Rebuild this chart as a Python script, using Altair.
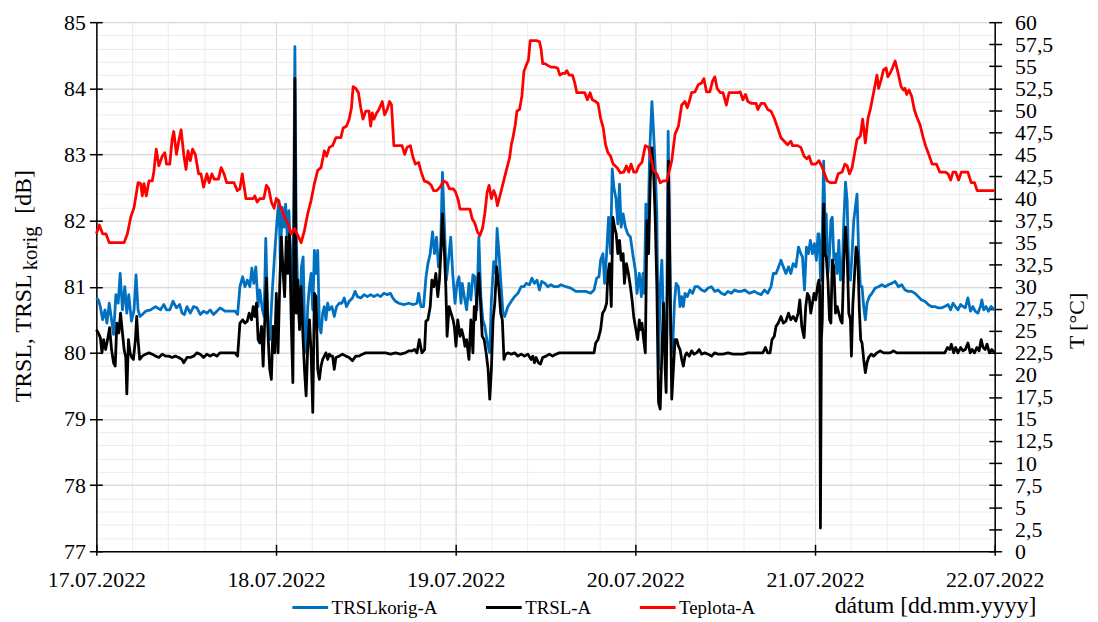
import altair as alt
import pandas as pd

# ---------------- data (hours since 17.07.2022 00:00, value) ----------------
date_labels = ["17.07.2022", "18.07.2022", "19.07.2022", "20.07.2022", "21.07.2022", "22.07.2022"]
series_names = ["TRSLkorig-A", "TRSL-A", "Teplota-A"]
series_colors = ["#0070C0", "#000000", "#FF0000"]

trslkorig = [
    (0, 80.83), (0.27, 80.8), (0.53, 80.7), (0.84, 80.5), (1.15, 80.65), (1.41, 80.45), (1.72, 80.75), (2.03, 80.5),
    (2.3, 80.28), (2.61, 80.88), (2.92, 80.75), (3.18, 81.2), (3.49, 80.65), (3.8, 81.0), (4.07, 80.6), (4.33, 80.88),
    (4.69, 80.48), (5.04, 80.65), (5.3, 81.18), (5.57, 80.65), (5.83, 80.55), (6.14, 80.58), (6.59, 80.63), (7.25, 80.65),
    (7.91, 80.7), (8.57, 80.65), (9.02, 80.73), (9.37, 80.65), (9.81, 80.65), (10.25, 80.78), (10.7, 80.68), (11.14, 80.73),
    (11.45, 80.6), (11.76, 80.58), (12.11, 80.7), (12.55, 80.6), (12.99, 80.7), (13.44, 80.68), (13.88, 80.58), (14.32, 80.63),
    (14.76, 80.6), (15.2, 80.65), (15.65, 80.58), (16.09, 80.63), (16.53, 80.68), (17.19, 80.63), (17.86, 80.63), (18.52, 80.63),
    (18.87, 80.58), (19.18, 81.0), (19.54, 81.15), (19.85, 81.0), (20.16, 81.1), (20.51, 81.0), (20.77, 81.28), (21.04, 81.05),
    (21.3, 81.3), (21.61, 80.7), (21.83, 80.95), (22.19, 80.65), (22.41, 80.55), (22.63, 81.73), (22.9, 80.5), (23.16, 80.2),
    (23.51, 80.95), (23.82, 81.5),
    (24.13, 82.0), (24.4, 82.3), (24.57, 81.4), (24.84, 82.2), (25.06, 81.9), (25.28, 82.25), (25.5, 81.75), (25.72, 82.15),
    (25.94, 81.5), (26.17, 80.6), (26.34, 81.8), (26.52, 84.63), (26.7, 81.8), (26.92, 80.85), (27.14, 80.4), (27.4, 81.3),
    (27.62, 81.45), (27.8, 80.5), (28.02, 80.0), (28.24, 80.7), (28.46, 81.0), (28.69, 81.2), (28.91, 80.65), (29.13, 81.55),
    (29.35, 81.2), (29.57, 81.55), (29.79, 80.4), (30.01, 80.3), (30.23, 80.6), (30.45, 80.7), (30.67, 80.5), (30.9, 80.75),
    (31.12, 80.65), (31.47, 80.7), (31.78, 80.55), (32.09, 80.7), (32.44, 80.75), (32.8, 80.75), (33.11, 80.83), (33.41, 80.7),
    (33.77, 80.78), (34.21, 80.83), (34.56, 80.93), (34.87, 80.85), (35.32, 80.83), (35.76, 80.88), (36.2, 80.85), (36.64, 80.88),
    (37.08, 80.85), (37.53, 80.88), (37.97, 80.85), (38.41, 80.9), (38.85, 80.88), (39.29, 80.9), (39.6, 80.83), (39.96, 80.78),
    (40.4, 80.75), (41.06, 80.73), (41.72, 80.75), (42.39, 80.73), (42.83, 80.75), (43.05, 80.9), (43.36, 80.7), (43.71, 80.7),
    (44.02, 81.13), (44.29, 81.35), (44.6, 81.5), (44.91, 81.83), (45.17, 81.5), (45.44, 81.75), (45.7, 81.3), (45.97, 81.5),
    (46.23, 82.73), (46.5, 81.9), (46.76, 81.1), (47.03, 81.4), (47.34, 81.75), (47.6, 81.2), (47.91, 80.75), (48.18, 81.05),
    (48.44, 81.15), (48.71, 80.75),
    (48.88, 81.05), (49.15, 80.85), (49.46, 80.65), (49.77, 81.05), (50.03, 80.8), (50.3, 81.18), (50.56, 81.15), (50.83, 80.65),
    (51.09, 81.75), (51.36, 80.85), (51.62, 80.5), (51.89, 80.4), (52.24, 80.15), (52.55, 80.0), (52.77, 80.8), (53.08, 81.38),
    (53.35, 81.2), (53.53, 81.88), (53.79, 81.5), (54.01, 81.1), (54.32, 80.6), (54.54, 80.55), (54.98, 80.7), (55.43, 80.78),
    (55.87, 80.85), (56.31, 80.9), (56.75, 81.0), (57.11, 81.0), (57.41, 81.05), (57.86, 81.03), (58.17, 81.13), (58.52, 81.05),
    (58.87, 81.1), (59.18, 80.95), (59.49, 81.08), (59.93, 81.05), (60.29, 81.0), (60.73, 81.03), (61.17, 81.0), (61.61, 81.0),
    (62.06, 81.03), (62.72, 81.0), (63.38, 80.98), (64.04, 80.93), (64.71, 80.93), (65.37, 80.93), (66.03, 80.9), (66.48, 80.95),
    (66.83, 81.13), (67.14, 81.15), (67.36, 81.4), (67.67, 81.5), (67.89, 81.05), (68.16, 81.5), (68.42, 82.05), (68.69, 81.5),
    (68.91, 82.78), (69.13, 82.5), (69.39, 82.35), (69.66, 81.95), (69.88, 82.55), (70.1, 81.9), (70.37, 82.1), (70.67, 81.9),
    (70.98, 81.8), (71.34, 81.75), (71.65, 81.5), (72.0, 81.25), (72.22, 80.9), (72.53, 81.2),
    (72.8, 80.85), (73.02, 81.2), (73.19, 80.9), (73.41, 82.25), (73.64, 81.5), (73.9, 83.0), (74.21, 83.8), (74.43, 83.35),
    (74.65, 82.8), (74.87, 82.1), (75.09, 79.75), (75.32, 81.0), (75.54, 81.4), (75.76, 80.5), (75.98, 80.0), (76.2, 80.75),
    (76.38, 83.35), (76.55, 82.0), (76.73, 80.3), (76.95, 80.0), (77.22, 80.75), (77.44, 81.05), (77.75, 81.0), (77.97, 80.7),
    (78.19, 80.85), (78.41, 80.7), (78.63, 80.9), (78.94, 80.85), (79.29, 80.95), (79.65, 80.9), (79.96, 81.0), (80.4, 81.0),
    (80.84, 80.95), (81.28, 80.93), (81.72, 80.98), (82.17, 81.0), (82.61, 80.93), (83.05, 80.95), (83.49, 80.9), (83.93, 80.88),
    (84.38, 80.93), (84.82, 80.9), (85.26, 80.95), (85.7, 80.93), (86.14, 80.93), (86.59, 80.95), (87.25, 80.9), (87.91, 80.93),
    (88.35, 80.9), (88.8, 80.88), (89.24, 80.95), (89.68, 80.9), (90.12, 81.0), (90.43, 81.2), (90.79, 81.2), (91.14, 81.3),
    (91.45, 81.4), (91.76, 81.3), (92.11, 81.2), (92.46, 81.3), (92.77, 81.2), (93.08, 81.35), (93.44, 81.3), (93.79, 81.6),
    (94.1, 81.5), (94.32, 81.45), (94.59, 80.95), (94.85, 81.6), (95.12, 81.5), (95.38, 81.7), (95.65, 81.5), (95.91, 81.65),
    (96.18, 81.4), (96.4, 81.8),
    (96.53, 81.8), (96.75, 81.1), (96.97, 81.8), (97.15, 82.9), (97.33, 82.0), (97.5, 82.1), (97.72, 81.2), (97.94, 81.5),
    (98.12, 82.0), (98.3, 82.05), (98.52, 81.4), (98.74, 81.5), (98.96, 81.2), (99.18, 81.7), (99.4, 81.1), (99.62, 81.2),
    (99.85, 82.0), (100.07, 82.58), (100.29, 82.3), (100.51, 81.2), (100.73, 81.1), (100.95, 81.5), (101.17, 82.0), (101.39, 82.2),
    (101.61, 82.4), (101.83, 81.5), (102.06, 81.0), (102.28, 81.0), (102.5, 80.7), (102.72, 80.5), (102.94, 80.75), (103.25, 80.85),
    (103.6, 80.9), (104.04, 80.98), (104.49, 81.0), (104.93, 81.03), (105.37, 81.0), (105.81, 81.03), (106.25, 81.05), (106.7, 81.08),
    (107.14, 81.0), (107.58, 81.03), (108.02, 80.95), (108.46, 80.93), (108.91, 80.93), (109.35, 80.9), (109.79, 80.85), (110.23, 80.8),
    (110.67, 80.78), (111.12, 80.73), (111.56, 80.7), (112.0, 80.7), (112.44, 80.68), (112.88, 80.68), (113.33, 80.7), (113.77, 80.73),
    (114.12, 80.65), (114.43, 80.75), (114.74, 80.7), (115.09, 80.65), (115.45, 80.73), (115.76, 80.7), (116.07, 80.68), (116.42, 80.83),
    (116.77, 80.63), (117.08, 80.7), (117.39, 80.63), (117.75, 80.6), (118.1, 80.7), (118.28, 80.8), (118.54, 80.65), (118.85, 80.7),
    (119.16, 80.63), (119.51, 80.7), (120.0, 80.65),
]

trsl = [
    (0, 80.35), (0.27, 80.3), (0.53, 80.23), (0.75, 80.0), (0.97, 80.2), (1.24, 80.05), (1.5, 80.2), (1.77, 80.38),
    (2.03, 80.05), (2.3, 79.85), (2.52, 79.8), (2.74, 80.45), (3.01, 80.3), (3.23, 80.6), (3.49, 80.3), (3.71, 80.05),
    (3.93, 79.93), (4.07, 79.38), (4.29, 80.2), (4.51, 80.0), (4.73, 79.93), (4.95, 79.9), (5.22, 80.2), (5.39, 80.55),
    (5.57, 80.2), (5.79, 79.9), (6.14, 79.95), (6.59, 79.98), (7.03, 80.0), (7.47, 79.98), (7.91, 79.95), (8.35, 79.93),
    (8.8, 79.98), (9.24, 79.95), (9.68, 79.95), (10.12, 79.93), (10.56, 79.95), (11.01, 79.93), (11.45, 79.9), (11.67, 79.85),
    (12.11, 79.93), (12.55, 79.93), (12.99, 79.95), (13.44, 80.0), (13.88, 79.98), (14.32, 79.93), (14.76, 79.98), (15.2, 79.95),
    (15.65, 79.98), (16.09, 79.95), (16.53, 80.0), (17.19, 80.0), (17.86, 80.0), (18.52, 80.0), (18.87, 79.95), (19.18, 80.45),
    (19.54, 80.5), (19.85, 80.45), (20.16, 80.48), (20.42, 80.6), (20.73, 80.5), (20.95, 80.7), (21.17, 80.55), (21.39, 80.75),
    (21.61, 80.2), (21.83, 80.15), (22.06, 80.4), (22.28, 79.8), (22.5, 80.5), (22.72, 81.13), (22.94, 80.25), (23.16, 79.75),
    (23.38, 79.6), (23.6, 80.4), (23.82, 80.0),
    (24.04, 80.9), (24.27, 80.0), (24.49, 81.0), (24.71, 81.75), (24.93, 81.25), (25.15, 80.85), (25.37, 81.75), (25.59, 81.2),
    (25.81, 81.8), (26.03, 80.5), (26.25, 79.55), (26.39, 81.5), (26.52, 84.15), (26.7, 80.6), (26.92, 81.1), (27.14, 80.35),
    (27.36, 81.0), (27.58, 80.3), (27.8, 79.75), (28.02, 79.35), (28.24, 80.1), (28.46, 80.5), (28.69, 80.0), (28.91, 79.1),
    (29.13, 80.9), (29.35, 80.85), (29.57, 79.75), (29.79, 79.6), (30.01, 79.8), (30.23, 79.9), (30.45, 79.95), (30.67, 80.0),
    (30.9, 79.9), (31.12, 79.98), (31.34, 79.95), (31.56, 79.95), (31.78, 79.75), (32.0, 79.93), (32.44, 79.95), (32.88, 79.98),
    (33.33, 79.95), (33.77, 79.93), (34.21, 79.88), (34.65, 79.95), (35.09, 79.95), (35.54, 79.98), (35.98, 80.0), (36.64, 80.0),
    (37.3, 80.0), (37.97, 80.0), (38.63, 80.0), (39.29, 79.98), (39.96, 80.0), (40.62, 79.98), (41.28, 80.0), (41.72, 80.03),
    (42.17, 80.03), (42.52, 80.05), (42.83, 80.0), (43.14, 80.2), (43.49, 80.0), (43.85, 80.05), (44.02, 80.48), (44.29, 80.5),
    (44.6, 80.7), (44.82, 81.1), (45.08, 81.0), (45.35, 81.2), (45.61, 80.85), (45.83, 81.1), (46.06, 81.6), (46.23, 82.1),
    (46.5, 81.5), (46.68, 81.0), (46.85, 80.25), (47.12, 80.7), (47.38, 80.6), (47.65, 80.5), (47.82, 80.4), (48.04, 80.1),
    (48.27, 80.5), (48.58, 80.25),
    (48.8, 80.35), (49.02, 80.25), (49.24, 80.1), (49.46, 80.2), (49.77, 79.9), (50.03, 80.5), (50.3, 80.0), (50.48, 80.7),
    (50.65, 80.5), (50.83, 80.85), (51.09, 81.2), (51.32, 80.75), (51.54, 80.25), (51.8, 80.2), (52.07, 80.0), (52.33, 79.75),
    (52.55, 79.3), (52.77, 79.75), (52.99, 80.5), (53.22, 80.75), (53.48, 81.3), (53.75, 81.0), (54.01, 80.6), (54.23, 80.5),
    (54.45, 79.9), (54.67, 79.98), (54.98, 80.0), (55.43, 79.98), (55.87, 80.0), (56.31, 79.95), (56.75, 79.98), (57.19, 79.95),
    (57.64, 79.98), (58.08, 79.9), (58.3, 79.95), (58.52, 79.85), (58.74, 79.93), (59.05, 79.85), (59.32, 79.83), (59.62, 79.93),
    (60.07, 79.95), (60.51, 79.98), (60.95, 79.95), (61.39, 79.98), (61.83, 80.0), (62.5, 80.0), (63.38, 80.0), (64.27, 80.0),
    (65.15, 80.0), (66.03, 80.0), (66.48, 80.0), (66.7, 80.15), (67.01, 80.2), (67.36, 80.35), (67.62, 80.6), (67.89, 80.65),
    (68.16, 80.75), (68.33, 81.2), (68.55, 81.35), (68.78, 80.7), (69.0, 82.05), (69.22, 81.9), (69.44, 81.8), (69.66, 81.5),
    (69.88, 81.7), (70.1, 81.4), (70.37, 81.5), (70.54, 81.05), (70.81, 81.35), (71.07, 81.2), (71.34, 81.0), (71.56, 80.8),
    (71.78, 80.55), (72.0, 80.4), (72.31, 80.2), (72.53, 80.5),
    (72.66, 80.35), (72.88, 80.45), (73.11, 80.2), (73.33, 80.0), (73.55, 82.0), (73.77, 81.5), (73.99, 82.6), (74.21, 83.1),
    (74.43, 82.75), (74.65, 82.05), (74.87, 81.0), (75.09, 79.25), (75.32, 79.15), (75.54, 80.0), (75.76, 80.75), (75.98, 79.75),
    (76.11, 79.4), (76.29, 81.0), (76.42, 82.9), (76.64, 81.0), (76.86, 79.3), (77.08, 79.75), (77.3, 80.2), (77.53, 80.2),
    (77.75, 80.1), (77.97, 80.05), (78.19, 79.9), (78.41, 79.8), (78.63, 79.95), (78.85, 80.0), (79.2, 79.95), (79.51, 80.03),
    (79.82, 79.98), (80.18, 80.0), (80.53, 80.05), (80.84, 79.98), (81.28, 80.0), (81.72, 79.98), (82.17, 79.95), (82.61, 80.0),
    (83.05, 79.98), (83.71, 79.98), (84.38, 80.0), (85.04, 79.98), (85.7, 79.98), (86.37, 79.98), (87.03, 80.0), (87.69, 80.0),
    (88.35, 80.0), (89.02, 80.0), (89.37, 80.08), (89.68, 80.0), (89.99, 80.0), (90.25, 80.2), (90.56, 80.25), (90.79, 80.4),
    (91.09, 80.45), (91.45, 80.55), (91.76, 80.45), (92.11, 80.48), (92.46, 80.6), (92.77, 80.5), (93.08, 80.55), (93.44, 80.48),
    (93.75, 80.6), (93.97, 80.8), (94.23, 80.4), (94.54, 80.23), (94.76, 80.7), (94.98, 80.9), (95.21, 80.85), (95.43, 80.6),
    (95.65, 80.75), (95.87, 80.9), (96.09, 80.8), (96.4, 81.05),
    (96.53, 81.1), (96.62, 81.0), (96.72, 77.35), (96.85, 80.2), (96.97, 80.5), (97.15, 82.25), (97.33, 81.5), (97.5, 81.45),
    (97.72, 81.1), (97.94, 80.5), (98.12, 80.45), (98.3, 81.4), (98.52, 81.3), (98.74, 80.6), (98.96, 80.7), (99.18, 80.6),
    (99.4, 80.5), (99.62, 80.45), (99.85, 81.4), (100.07, 81.9), (100.29, 81.5), (100.51, 80.6), (100.73, 80.5), (100.86, 79.95),
    (101.04, 80.7), (101.26, 81.15), (101.48, 81.6), (101.7, 81.5), (101.92, 80.65), (102.1, 80.2), (102.28, 80.15), (102.5, 79.9),
    (102.72, 79.7), (102.94, 79.85), (103.16, 79.93), (103.51, 79.98), (103.82, 79.95), (104.27, 80.0), (104.71, 80.03), (105.15, 80.0),
    (105.59, 80.0), (106.03, 80.0), (106.48, 80.03), (106.92, 80.0), (107.58, 80.0), (108.46, 80.0), (109.35, 80.0), (110.23, 80.0),
    (111.12, 80.0), (112.0, 80.0), (112.88, 80.0), (113.33, 80.0), (113.68, 80.08), (113.99, 80.05), (114.21, 80.13), (114.52, 80.0),
    (114.79, 80.08), (115.09, 80.0), (115.45, 80.08), (115.76, 80.03), (116.07, 80.05), (116.42, 80.15), (116.73, 80.0), (116.99, 80.05),
    (117.3, 80.0), (117.61, 80.08), (117.92, 80.03), (118.19, 80.2), (118.45, 80.08), (118.72, 80.05), (118.98, 80.13), (119.29, 80.0),
    (119.6, 80.05), (120.0, 80.0),
]

teplota = [
    (0.0, 36.0), (0.4, 37.0), (0.84, 36.0), (1.28, 36.0), (1.72, 35.0), (3.71, 35.0), (4.15, 36.0), (4.6, 37.9),
    (5.04, 39.0), (5.57, 41.8), (5.92, 41.7), (6.14, 40.3), (6.36, 41.7), (6.67, 40.3), (7.03, 42.0), (7.47, 42.0),
    (7.69, 43.1), (8.0, 45.6), (8.35, 43.7), (8.8, 44.8), (9.15, 45.2), (9.37, 43.9), (9.81, 43.9), (10.12, 46.7),
    (10.34, 47.6), (10.7, 45.0), (11.0, 46.5), (11.32, 47.8), (11.67, 45.0), (11.98, 43.3), (12.24, 45.4), (12.55, 44.3),
    (12.86, 45.6), (13.22, 45.0), (13.66, 42.8), (13.97, 42.8), (14.32, 41.3), (14.76, 42.8), (15.07, 41.8), (15.43, 42.8),
    (15.74, 42.2), (16.31, 42.2), (16.67, 43.5), (17.06, 42.8), (17.41, 41.8), (18.39, 41.8), (18.83, 40.9), (19.18, 41.1),
    (19.49, 42.8), (19.98, 40.0), (20.95, 40.0), (21.17, 40.3), (21.48, 39.6), (21.83, 40.0), (22.37, 40.0), (22.72, 41.5),
    (23.03, 41.1), (23.38, 39.6), (23.74, 38.9),
    (24.04, 40.0), (24.27, 39.8), (24.71, 38.8), (25.15, 37.9), (25.59, 37.2), (26.03, 36.0), (26.48, 36.6), (26.92, 35.8),
    (27.36, 35.0), (27.8, 36.4), (28.24, 38.3), (28.69, 39.8), (29.13, 41.7), (29.57, 43.2), (30.01, 43.5), (30.45, 45.4),
    (30.76, 44.8), (31.12, 45.8), (31.56, 46.0), (32.0, 46.9), (32.66, 46.9), (32.97, 48.0), (33.41, 48.2), (33.77, 49.0),
    (34.08, 50.3), (34.3, 52.7), (34.65, 52.5), (35.01, 52.0), (35.32, 50.3), (35.62, 49.0), (35.98, 49.9), (36.42, 49.9),
    (36.64, 48.2), (36.86, 49.7), (37.08, 49.0), (37.44, 49.7), (37.75, 50.1), (38.19, 51.0), (38.5, 49.5), (38.85, 50.1),
    (39.16, 51.0), (39.43, 50.6), (39.74, 46.0), (40.84, 46.0), (41.19, 45.0), (41.5, 45.8), (41.95, 46.0), (42.26, 44.8),
    (42.61, 43.9), (43.05, 44.1), (43.4, 43.0), (43.8, 42.0), (44.38, 41.8), (44.73, 41.5), (45.04, 40.9), (45.48, 40.9),
    (45.92, 41.3), (46.37, 42.0), (46.81, 41.8), (47.16, 41.1), (47.69, 41.1),
    (48.0, 40.7), (48.35, 39.8), (48.57, 38.8), (49.46, 38.8), (49.9, 38.8), (50.21, 37.7), (50.56, 37.2), (50.92, 36.2),
    (51.23, 35.8), (51.58, 36.6), (51.89, 38.3), (52.2, 40.7), (52.46, 41.5), (52.77, 40.0), (53.08, 40.9), (53.35, 40.3),
    (53.57, 39.2), (53.88, 40.2), (54.32, 41.7), (54.76, 43.2), (55.2, 44.6), (55.43, 46.1), (55.65, 46.9), (55.96, 48.4),
    (56.18, 49.9), (56.53, 50.1), (56.84, 51.6), (57.11, 54.4), (57.41, 55.1), (57.72, 55.7), (57.95, 57.9), (58.74, 57.9),
    (59.18, 57.8), (59.4, 57.0), (59.62, 55.3), (59.93, 55.3), (60.29, 55.1), (60.73, 54.9), (61.17, 54.9), (61.61, 54.8),
    (61.92, 54.0), (62.28, 54.2), (62.59, 54.2), (62.85, 54.5), (63.16, 54.0), (63.6, 54.0), (63.91, 53.1), (64.18, 52.0),
    (64.93, 52.0), (65.24, 52.0), (65.59, 51.2), (65.95, 52.0), (66.25, 51.2), (66.7, 51.0), (67.01, 50.8), (67.36, 49.1),
    (67.71, 48.0), (68.02, 46.1), (68.33, 45.2), (68.69, 44.8), (69.04, 43.9), (69.57, 43.5), (70.01, 42.9), (70.45, 43.0),
    (70.81, 43.7), (71.12, 43.0), (71.43, 43.9), (71.78, 43.0),
    (72.13, 43.0), (72.44, 43.7), (72.88, 44.1), (73.33, 46.0), (73.77, 45.8), (74.08, 44.6), (74.43, 43.2), (74.87, 42.8),
    (75.32, 41.8), (75.76, 42.0), (76.2, 42.0), (76.55, 43.2), (76.86, 44.3), (77.3, 47.3), (77.75, 48.2), (78.19, 50.6),
    (78.63, 51.0), (78.94, 50.3), (79.2, 51.0), (79.51, 52.0), (79.96, 52.1), (80.4, 52.9), (80.84, 53.1), (81.15, 53.6),
    (81.5, 52.1), (81.95, 52.1), (82.3, 53.3), (82.61, 53.8), (82.92, 52.5), (83.36, 52.0), (83.71, 52.0), (84.16, 50.6),
    (84.51, 52.0), (85.26, 52.0), (85.7, 52.0), (86.01, 52.1), (86.37, 51.2), (86.72, 51.8), (87.03, 51.0), (87.47, 50.8),
    (88.13, 50.8), (88.35, 50.1), (88.8, 50.8), (89.24, 50.8), (89.68, 50.1), (90.12, 49.9), (90.56, 49.1), (91.01, 48.0),
    (91.45, 46.9), (91.89, 46.5), (92.33, 46.1), (92.77, 46.5), (93.0, 46.0), (93.66, 46.0), (94.1, 45.8), (94.54, 44.8),
    (94.9, 44.5), (95.21, 44.8), (95.56, 43.9), (96.09, 43.9),
    (96.53, 44.3), (96.97, 43.5), (97.64, 42.0), (98.08, 41.8), (98.74, 41.8), (99.09, 42.8), (99.62, 43.0), (99.98, 43.9),
    (100.29, 43.7), (100.6, 42.8), (100.95, 43.5), (101.3, 45.2), (101.61, 46.7), (102.06, 47.1), (102.36, 49.0), (102.72, 46.3),
    (103.07, 49.1), (103.38, 50.1), (103.82, 52.0), (104.27, 54.0), (104.49, 52.5), (104.84, 53.5), (105.15, 54.6), (105.5, 54.8),
    (105.72, 53.8), (106.03, 54.2), (106.34, 54.8), (106.7, 55.6), (107.05, 54.4), (107.49, 52.7), (107.8, 52.3), (108.02, 52.5),
    (108.24, 51.8), (108.55, 52.3), (108.91, 51.6), (109.26, 50.1), (109.57, 49.3), (110.01, 48.4), (110.45, 46.9), (110.76, 46.0),
    (111.2, 45.0), (111.65, 43.9), (112.22, 43.9), (112.66, 43.0), (113.41, 43.0), (113.77, 42.8), (114.12, 42.1), (114.43, 43.0),
    (114.79, 43.0), (115.18, 42.1), (115.54, 43.0), (116.42, 43.0), (116.86, 41.8), (117.3, 41.8), (117.66, 40.9), (120.0, 40.9),
]

title_main = "TRSL, TRSL"
title_sub = "korig"
title_unit = "[dB]"
title_right = "T [°C]"
title_x = "dátum [dd.mm.yyyy]"

# ---------------- helpers ----------------
def frame(points, name):
    return pd.DataFrame({"h": [p[0] for p in points], "v": [p[1] for p in points], "series": name})

df_blue = frame(trslkorig, series_names[0])
df_black = frame(trsl, series_names[1])
df_red = frame(teplota, series_names[2])

FONT = "Liberation Serif"
W, H = 905, 533

day_ticks = [0, 24, 48, 72, 96, 120]
x_minor = [round(i * 4.8, 2) for i in range(26)]
y_major = list(range(77, 86))
y_minor = [round(77 + 0.2 * i, 1) for i in range(41)]
t_ticks = [2.5 * i for i in range(25)]

xs = alt.Scale(domain=[0, 120], nice=False, zero=False)
ys = alt.Scale(domain=[77, 85], nice=False, zero=False)
ts = alt.Scale(domain=[0, 60], nice=False, zero=False)
cs = alt.Scale(domain=series_names, range=series_colors)

x_label_expr = "[" + ",".join("'" + d + "'" for d in date_labels) + "][round(datum.value/24)]"

legend = alt.Legend(
    orient="none", legendX=196, legendY=570, direction="horizontal", title=None,
    symbolType="stroke", symbolSize=1296, symbolStrokeWidth=3, labelFont=FONT,
    labelFontSize=19, labelColor="black", columnPadding=42, labelOffset=2, padding=0,
)


def grid_axis_x(values, color):
    return alt.Axis(orient="bottom", values=values, grid=True, gridColor=color, gridWidth=1, labels=False,
                    ticks=False, domain=False, title=None)


def grid_axis_y(values, color):
    return alt.Axis(orient="left", values=values, grid=True, gridColor=color, gridWidth=1, labels=False,
                    ticks=False, domain=False, title=None)


def hidden(df, scale_y, ax_x, ax_y):
    return alt.Chart(df).mark_line(strokeOpacity=0).encode(
        x=alt.X("h:Q", scale=xs, axis=ax_x),
        y=alt.Y("v:Q", scale=scale_y, axis=ax_y),
    )


l_minor = hidden(df_blue, ys, grid_axis_x(x_minor, "#ececec"), grid_axis_y(y_minor, "#ececec"))
l_major = hidden(df_blue, ys, grid_axis_x(day_ticks, "#d4d4d4"), grid_axis_y(y_major, "#d4d4d4"))
l_inner = hidden(
    df_blue, ys,
    alt.Axis(orient="bottom", values=day_ticks, grid=False, labels=False, domain=False, ticks=True, tickSize=7,
             offset=-7, tickColor="black", tickWidth=1.5, title=None),
    alt.Axis(orient="left", values=y_major, grid=False, labels=False, domain=False, ticks=True, tickSize=6,
             offset=-6, tickColor="black", tickWidth=1.5, title=None),
)
l_red_inner = hidden(
    df_red, ts, None,
    alt.Axis(orient="right", values=t_ticks, grid=False, labels=False, domain=False, ticks=True, tickSize=6,
             offset=-6, tickColor="black", tickWidth=1.5, title=None),
)

x_main_axis = alt.Axis(orient="bottom", values=day_ticks, grid=False, labelExpr=x_label_expr, labelFont=FONT,
                       labelFontSize=22, labelColor="black", labelPadding=15, labelFlush=False, labelOverlap=False,
                       tickSize=4, tickColor="black", tickWidth=1.5, domainColor="black", domainWidth=1.5,
                       title=None)
y_main_axis = alt.Axis(orient="left", values=y_major, grid=False, format="d", labelFont=FONT, labelFontSize=22,
                       labelColor="black", labelPadding=4, labelFlush=False, tickSize=7, tickColor="black",
                       tickWidth=1.5, domainColor="black", domainWidth=1.5, title=None)
t_axis = alt.Axis(orient="right", values=t_ticks, grid=False,
                  labelExpr="replace(format(datum.value, '.1~f'), '.', ',')", labelFont=FONT, labelFontSize=22,
                  labelColor="black", labelPadding=13, labelFlush=False, labelOverlap=False, tickSize=7,
                  tickColor="black", tickWidth=1.5, domainColor="black", domainWidth=1.5, title=None)

l_blue = alt.Chart(df_blue).mark_line(strokeWidth=2.8, strokeJoin="round").encode(
    x=alt.X("h:Q", scale=xs, axis=x_main_axis),
    y=alt.Y("v:Q", scale=ys, axis=y_main_axis),
    color=alt.Color("series:N", scale=cs, legend=legend),
)
l_black = alt.Chart(df_black).mark_line(strokeWidth=2.8, strokeJoin="round").encode(
    x=alt.X("h:Q", scale=xs, axis=None),
    y=alt.Y("v:Q", scale=ys, axis=None),
    color=alt.Color("series:N", scale=cs, legend=legend),
)
l_red = alt.Chart(df_red).mark_line(strokeWidth=2.8, strokeJoin="round").encode(
    x=alt.X("h:Q", scale=xs, axis=None),
    y=alt.Y("v:Q", scale=ts, axis=t_axis),
    color=alt.Color("series:N", scale=cs, legend=legend),
)


def label(text, size, x, y, align, angle=None):
    kw = dict(font=FONT, fontSize=size, align=align, baseline="alphabetic", color="black")
    if angle is not None:
        kw["angle"] = angle
    return alt.Chart(pd.DataFrame({"t": [text]})).mark_text(**kw).encode(
        x=alt.value(x), y=alt.value(y), text="t:N")


t1 = label(title_main, 24, -66, 383, "left", 270)
t2 = label(title_sub, 21, -60, 250, "left", 270)
t3 = label(title_unit, 24, -66, 193, "left", 270)
t4 = label(title_right, 22, 995, 301, "center", 270)
t5 = label(title_x, 24, 947, 595, "right")

chart = alt.layer(
    l_minor, l_major, l_inner, l_red_inner, l_blue, l_black, l_red, t1, t2, t3, t4, t5
).resolve_scale(y="independent").resolve_axis(x="independent", y="independent").properties(
    width=W, height=H,
    autosize=alt.AutoSizeParams(type="none"),
    padding={"left": 89, "top": 12, "right": 96, "bottom": 70},
).configure_view(strokeWidth=0).configure_legend(
    labelFont=FONT, labelFontSize=19, labelColor="black"
)

chart.save("out.html", embed_options={"renderer": "svg", "actions": False})
